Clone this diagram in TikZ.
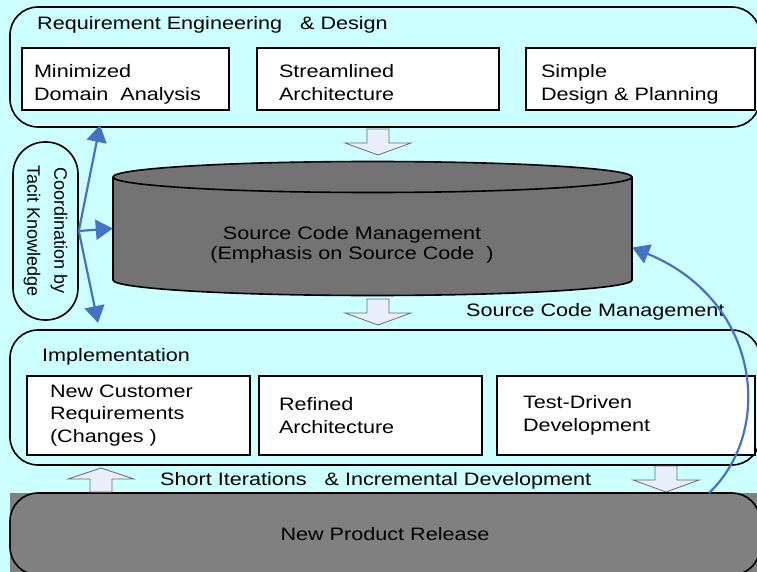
\documentclass[tikz,border=0pt]{standalone}
\usepackage{fontspec}
\setmainfont[FakeStretch=1.2]{Liberation Sans}
\newfontfamily\plainsans{Liberation Sans}
\usetikzlibrary{shapes,arrows.meta}

\definecolor{bgcyan}{RGB}{204,255,255}
\definecolor{linkblue}{RGB}{68,114,196}
\definecolor{blockfill}{RGB}{232,238,250}
\definecolor{blockline}{RGB}{110,110,110}

\tikzstyle{phase} = [rectangle, draw, line width=1.6pt, rounded corners=28pt,
    minimum width=750pt]
\tikzstyle{reqbox} = [rectangle, draw, fill=white, line width=1.5pt,
    align=left, minimum height=62pt, text depth=16pt]
\tikzstyle{implbox} = [rectangle, draw, fill=white, line width=1.5pt,
    align=left, minimum height=79pt]
\tikzstyle{repo} = [draw, fill=black!55, line width=1.6pt]
\tikzstyle{tacit} = [rectangle, draw, line width=1.6pt, rounded corners=32pt,
    rotate=-90, align=center, font=\plainsans\fontsize{18}{27}\selectfont]
\tikzstyle{caption} = [anchor=base west, inner sep=0pt]
\tikzstyle{link} = [draw=linkblue, line width=2.2pt, -{Triangle[length=17pt,width=20pt]}]
\tikzstyle{blockarrow} = [draw=blockline, line width=0.8pt, fill=blockfill]

% hollow block arrows, given the middle of their flat end
\newcommand{\blockdown}[1]{\path [blockarrow] (#1) ++(-11,0) -- ++(22,0) -- ++(0,14)
    -- ++(22,0) -- ++(-33,12) -- ++(-33,-12) -- ++(22,0) -- cycle;}
\newcommand{\blockup}[1]{\path [blockarrow] (#1) ++(-11,0) -- ++(22,0) -- ++(0,-13)
    -- ++(22,0) -- ++(-33,-11) -- ++(-33,11) -- ++(22,0) -- cycle;}

\begin{document}
\begin{tikzpicture}[x=1pt, y=-1pt, font=\fontsize{18}{22.5}\selectfont]
    \useasboundingbox (0,0) rectangle (757,572);
    \fill [bgcyan] (0,0) rectangle (757,572);
    \clip (0,0) rectangle (757,572);
    % Place phases
    \node [phase, minimum height=120pt] (req) at (385,67) {};
    \node [phase, minimum height=135pt] (impl) at (385,397.5) {};
    \fill [black!50] (10,493) rectangle (757,572);
    \node [phase, fill=black!50, minimum height=82pt] (release) at (385,534) {New Product Release};
    \node [caption] (reqtitle) at (37,30) {Requirement Engineering~~~\& Design};
    \node [caption] (impltitle) at (42,361) {Implementation};
    % Place activities
    \node [reqbox, text width=183pt, inner xsep=12pt] (domain) at (125.5,79) {Minimized\\Domain~~Analysis};
    \node [reqbox, text width=198pt, inner xsep=22pt] (arch) at (378,79) {Streamlined\\Architecture};
    \node [reqbox, text width=199pt, inner xsep=15pt] (plan) at (640.5,79) {Simple\\Design \& Planning};
    \node [implbox, text width=177pt, inner xsep=23pt] (custreq) at (138.5,415.5) {New Customer\\Requirements\\(Changes~)};
    \node [implbox, text width=183pt, inner xsep=20pt] (refined) at (370.5,415.5) {Refined\\Architecture};
    \node [implbox, text width=206pt, inner xsep=26pt] (tdd) at (626,415.5) {Test-Driven\\Development};
    % Repository drum and coordination
    \path [repo] (113,177) -- (113,280) arc [start angle=180, end angle=0, x radius=259.5, y radius=15.5]
        -- (632,177) arc [start angle=0, end angle=-180, x radius=259.5, y radius=15.5] -- cycle;
    \path [repo, fill=none] (113,177) arc [start angle=180, end angle=0, x radius=259.5, y radius=15.5];
    \node [inner sep=0pt, minimum width=519pt, minimum height=103pt] (scm) at (372.5,228.5) {};
    \node [align=center, anchor=north, inner sep=0pt, font=\fontsize{18}{20}\selectfont] (scmtext) at (352,226)
        {Source Code Management\\(Emphasis on Source Code~~)};
    \node [tacit, minimum width=178pt, minimum height=65pt] (coord) at (45.5,231) {Coordination by\\Tacit Knowledge};
    \node [caption] (scmlabel) at (466,316) {Source Code Management};
    \node [caption] (iterlabel) at (160,485) {Short Iterations~~~\& Incremental Development};
    % Block arrows
    \blockdown{378,129}
    \blockdown{378,299}
    \blockdown{666,466}
    \blockup{101,492}
    % Draw links (coord is turned, so its north faces right)
    \coordinate (tipup) at (100,125);
    \coordinate (tipdown) at (98,323);
    \coordinate (relout) at (709,493);
    \path [link] (coord.north) -- (tipup);
    \path [link] (coord.north) -- (scm.west);
    \path [link] (coord.north) -- (tipdown);
    \path [link] (relout) .. controls (775,430) and (760,300) .. ([yshift=-19pt]scm.east);
\end{tikzpicture}
\end{document}
